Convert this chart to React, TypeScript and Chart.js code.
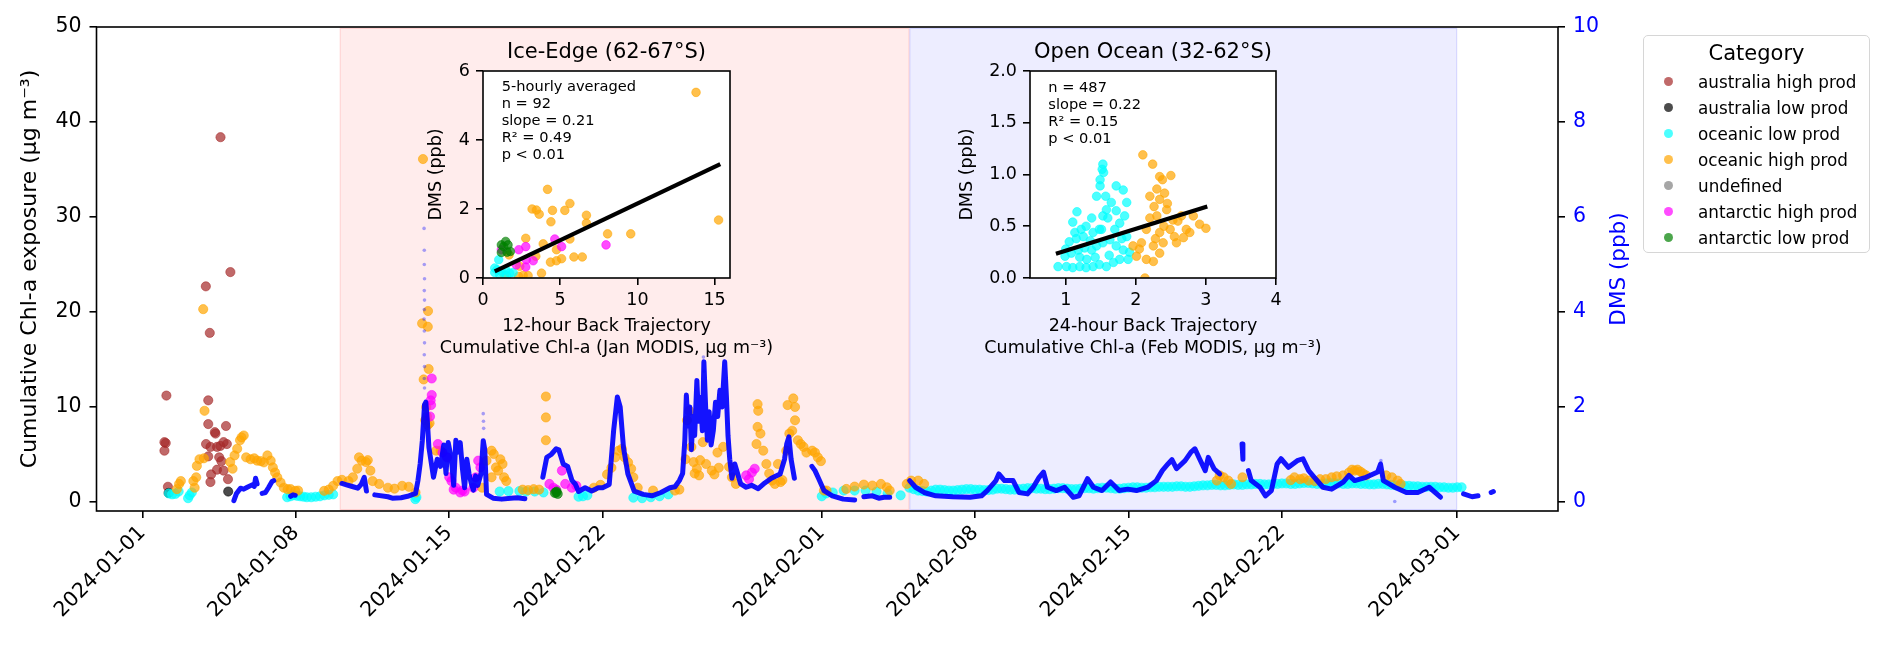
import { useEffect, useRef } from "react";
import { Chart, registerables } from "chart.js";

Chart.register(...registerables);

const FONT = '"DejaVu Sans", Verdana, sans-serif';

// ---- categories (legend order) ----
const categories = [
  "australia high prod",
  "australia low prod",
  "oceanic low prod",
  "oceanic high prod",
  "undefined",
  "antarctic high prod",
  "antarctic low prod",
];
const categoryColors = ["#a52a2a", "#000000", "#00ffff", "#ffa500", "#808080", "#ff00ff", "#008000"];

// ---- main panel axes (x = days since 2024-01-01) ----
const dateTickDays = [0, 7, 14, 21, 31, 38, 45, 52, 60];
const dateTickLabels = [
  "2024-01-01", "2024-01-08", "2024-01-15", "2024-01-22", "2024-02-01",
  "2024-02-08", "2024-02-15", "2024-02-22", "2024-03-01",
];
const chlTicks = [0, 10, 20, 30, 40, 50];
const dmsTicks = [0, 2, 4, 6, 8, 10];
const chlAxisTitle = "Cumulative Chl-a exposure (μg m⁻³)";
const dmsAxisTitle = "DMS (ppb)";

// shaded regimes (ice edge, open ocean)
const regimeStart = [9, 35];
const regimeEnd = [35, 60];

// ---- Chl-a exposure per category (day, μg m-3) ----
const ausHighDay = [
  1.09, 1.0, 1.06, 1.0, 1.16, 2.89, 3.07, 3.56, 4.01, 3.0,
  3.0, 3.81, 3.3, 3.33, 2.9, 3.1, 3.4, 3.55, 3.7, 3.85,
  3.0, 3.5, 3.6, 3.4, 3.7, 3.9, 3.13, 3.1,
];
const ausHighChl = [
  11.2, 6.3, 6.2, 5.4, 1.6, 22.7, 17.8, 38.4, 24.2, 10.7,
  8.2, 8.0, 7.35, 7.2, 6.1, 5.8, 5.8, 5.9, 6.3, 6.1,
  4.8, 4.7, 4.3, 3.4, 3.3, 2.4, 2.9, 2.1,
];
const ausLowDay = [1.19, 3.91];
const ausLowChl = [0.95, 1.1];

const oceanLowDay = [
  1.2, 1.35, 1.5, 1.65, 2.08, 2.15, 2.25, 6.6, 6.9, 7.2,
  7.5, 7.9, 8.3, 8.7, 12.45, 12.5, 16.3, 16.7, 17.2, 17.5,
  17.9, 18.3, 19.9, 20.1, 20.3, 22.4, 22.8, 23.2, 23.6, 24.0,
  31.0, 31.2, 31.5, 32.0, 32.5, 33.0, 33.5, 34.0, 34.6,
  6.75, 7.05, 7.35, 7.7, 8.1, 8.5,
  35.0, 35.4, 35.8, 36.2, 36.6, 37.0, 37.4, 37.8, 38.2, 38.6,
  39.0, 39.4, 39.8, 40.2, 40.6, 41.0, 41.4, 41.8, 42.2, 42.6,
  43.0, 43.4, 43.8, 44.2, 44.6, 45.0, 45.4, 45.8, 46.2, 46.6,
  47.0, 47.4, 47.8, 48.2, 48.6, 49.0, 49.4, 49.8, 50.2, 50.6,
  51.0, 51.4, 51.8, 52.2, 52.6, 53.0, 53.4, 53.8, 54.2, 54.6,
  55.0, 55.4, 55.8, 56.2, 56.6, 57.0, 57.4, 57.8, 58.2, 58.6,
  59.0, 59.4, 59.8, 60.2,
  35.2, 35.6, 36.0, 36.4, 36.8, 37.2, 37.6, 38.0, 38.4, 38.8,
  39.2, 39.6, 40.0, 40.4, 40.8, 41.2, 41.6, 42.0, 42.4, 42.8,
  43.2, 43.6, 44.0, 44.4, 44.8, 45.2, 45.6, 46.0, 46.4, 46.8,
  47.2, 47.6, 48.0, 48.4, 48.8, 49.2, 49.6, 50.0, 50.4, 50.8,
  51.2, 51.6, 52.0, 52.4, 52.8, 53.2, 53.6, 54.0, 54.4, 54.8,
  55.2, 55.6, 56.0, 56.4, 56.8, 57.2, 57.6, 58.0, 58.4, 58.8,
  59.2, 59.6, 60.0,
];
const oceanLowChl = [
  0.9, 0.8, 0.85, 1.1, 0.4, 0.7, 1.0, 0.5, 0.7, 0.6,
  0.5, 0.55, 0.7, 0.8, 0.3, 0.5, 1.1, 1.15, 1.15, 1.1,
  1.1, 1.0, 0.55, 0.6, 0.7, 0.45, 0.4, 0.5, 0.6, 0.8,
  0.6, 0.9, 1.0, 1.2, 1.2, 1.2, 1.1, 0.9, 0.7,
  0.6, 0.65, 0.55, 0.5, 0.6, 0.75,
  1.5, 1.2, 1.1, 1.3, 1.25, 1.2, 1.3, 1.35, 1.3, 1.25,
  1.4, 1.35, 1.3, 1.4, 1.45, 1.4, 1.35, 1.45, 1.4, 1.35,
  1.45, 1.4, 1.5, 1.45, 1.4, 1.5, 1.55, 1.5, 1.55, 1.6,
  1.6, 1.65, 1.6, 1.7, 1.75, 1.8, 1.75, 1.85, 1.8, 1.85,
  1.9, 1.85, 1.9, 1.95, 1.9, 2.0, 1.95, 1.9, 2.0, 1.95,
  1.9, 1.95, 1.9, 1.85, 1.9, 1.8, 1.75, 1.7, 1.65, 1.6,
  1.6, 1.55, 1.5, 1.55,
  1.35, 1.15, 1.2, 1.3, 1.2, 1.25, 1.35, 1.3, 1.25, 1.3,
  1.4, 1.3, 1.35, 1.45, 1.4, 1.35, 1.4, 1.45, 1.35, 1.4,
  1.45, 1.45, 1.5, 1.4, 1.45, 1.55, 1.5, 1.55, 1.6, 1.6,
  1.65, 1.6, 1.65, 1.75, 1.8, 1.75, 1.8, 1.8, 1.85, 1.9,
  1.85, 1.9, 1.95, 1.9, 1.95, 2.0, 1.9, 1.95, 2.0, 1.9,
  1.95, 1.9, 1.85, 1.9, 1.85, 1.75, 1.7, 1.65, 1.6, 1.6,
  1.55, 1.5, 1.55,
];

const oceanHighDay = [
  2.77, 2.83, 1.57, 1.67, 1.75, 2.32, 2.38, 2.45, 2.48, 2.6,
  2.8, 4.0, 4.11, 4.2, 4.32, 4.45, 4.52, 4.62, 4.73, 4.93,
  5.1, 5.23, 5.4, 5.54, 5.7, 5.85, 5.95, 6.05, 6.15, 6.3,
  6.45, 6.62, 6.76, 6.97, 7.1, 8.29, 8.5, 8.7, 8.9, 9.1,
  9.4, 9.6, 9.8, 9.88, 10.0, 10.2, 10.28, 10.4, 10.5, 10.8,
  11.2, 11.5, 11.85, 12.15, 12.46, 12.8, 13.03, 12.76, 13.02, 13.06,
  12.83, 12.9, 13.02, 13.1, 12.95, 12.98, 13.4, 13.6, 15.5, 15.7,
  15.93, 16.03, 16.33, 16.43, 16.13, 16.23, 16.5, 16.6, 15.93, 17.35,
  17.6, 17.85, 18.1, 18.41, 18.41, 18.41, 20.6, 20.9, 21.2, 21.4,
  21.58, 21.73, 21.88, 22.0, 22.16, 22.3, 22.4, 22.6, 23.3, 24.3,
  24.5, 24.78, 24.85, 24.95, 25.05, 25.15, 25.2, 25.3, 25.4, 25.45,
  25.57, 25.72, 25.98, 26.1, 26.24, 26.3, 26.5, 26.77, 26.9, 27.08,
  28.02, 28.07, 28.07, 28.1, 28.2, 28.33, 28.47, 28.6, 28.73, 28.86,
  29.0, 29.12, 29.2, 29.38, 29.44, 29.52, 29.65, 29.7, 29.78, 29.78,
  29.91, 30.04, 30.17, 30.3, 30.56, 30.69, 30.82, 30.96, 31.1, 31.22,
  32.12, 32.5, 32.92, 33.31, 33.7, 33.97, 34.1, 34.88, 35.08, 35.4,
  35.67, 49.03, 49.16, 49.34, 49.55, 49.68, 50.2, 52.4, 52.57, 52.83,
  53.0, 53.22, 53.5, 53.74, 54.0, 54.27, 54.5, 54.79, 55.06, 55.2,
  55.32, 55.45, 55.58, 55.7, 55.84, 56.76, 57.02, 57.28, 57.42,
];
const oceanHighChl = [
  20.3, 9.6, 1.35, 1.9, 2.2, 2.2, 1.5, 2.6, 3.8, 4.5,
  4.6, 4.2, 3.5, 4.9, 5.6, 6.5, 6.8, 7.0, 4.7, 4.5,
  4.6, 4.35, 4.3, 4.17, 4.9, 4.35, 3.64, 3.1, 2.6, 2.05,
  1.5, 1.35, 1.35, 1.17, 1.2, 1.17, 1.3, 1.7, 2.2, 2.33,
  2.2, 2.6, 3.5, 4.7, 4.35, 4.2, 4.4, 3.3, 2.2, 1.9,
  1.5, 1.4, 1.7, 1.6, 1.0, 36.1, 20.1, 18.8, 18.45, 14.0,
  12.9, 8.6, 8.1, 8.3, 10.0, 9.0, 5.4, 5.4, 1.5, 4.35,
  5.4, 5.05, 4.5, 4.0, 3.64, 3.3, 2.6, 2.2, 2.6, 1.3,
  1.25, 1.35, 1.3, 11.1, 8.9, 6.5, 1.5, 1.8, 2.9, 3.6,
  4.7, 5.4, 5.6, 4.7, 4.17, 3.5, 2.6, 1.5, 1.2, 1.2,
  1.3, 4.5, 8.6, 9.6, 5.8, 4.2, 3.0, 3.5, 2.8, 4.4,
  6.3, 4.0, 3.3, 2.9, 5.2, 3.6, 5.8, 3.7, 2.6, 1.9,
  6.1, 10.3, 7.9, 9.6, 7.2, 5.4, 4.0, 3.0, 2.25, 1.9,
  4.0, 2.1, 2.3, 5.4, 10.2, 7.2, 7.5, 10.9, 10.0, 8.6,
  6.5, 6.1, 5.8, 5.2, 5.4, 5.2, 4.7, 4.3, 1.2, 1.2,
  1.37, 1.62, 1.83, 1.73, 1.9, 1.55, 1.2, 1.9, 2.25, 2.25,
  1.9, 2.25, 2.8, 2.6, 2.25, 1.9, 2.6, 2.3, 2.6, 2.4,
  2.5, 2.25, 2.2, 2.4, 2.4, 2.6, 2.7, 2.8, 3.1, 3.4,
  3.3, 3.4, 3.2, 3.0, 2.8, 2.8, 2.6, 2.25, 1.9,
];
const undefinedDay: number[] = [];
const undefinedChl: number[] = [];
const antHighDay = [
  13.2, 13.2, 13.15, 13.17, 13.12, 13.48, 13.69, 13.9, 14.0, 14.1,
  14.2, 14.3, 14.5, 14.6, 14.7, 15.1, 15.21, 15.32, 15.42, 18.57,
  18.75, 18.88, 19.14, 19.29, 19.59, 19.8, 27.55, 27.68, 27.81, 27.94,
];
const antHighChl = [
  13.0, 11.26, 10.7, 10.2, 9.0, 6.1, 5.2, 4.7, 2.6, 2.2,
  1.3, 1.5, 1.0, 1.2, 1.1, 1.5, 2.6, 4.35, 3.64, 1.9,
  1.5, 1.3, 3.3, 1.9, 1.5, 1.7, 2.8, 2.4, 3.1, 3.5,
];
const antLowDay = [18.82, 18.88, 18.95, 18.9];
const antLowChl = [0.95, 1.0, 0.85, 1.1];

const catDay = [ausHighDay, ausLowDay, oceanLowDay, oceanHighDay, undefinedDay, antHighDay, antLowDay];
const catChl = [ausHighChl, ausLowChl, oceanLowChl, oceanHighChl, undefinedChl, antHighChl, antLowChl];

// ---- DMS trace (day, ppb); null = gap in record ----
const dmsDay = [
  4.17, 4.29, 4.47, 4.62, 4.78, 5.0, 5.1, 5.16, 5.23, 5.35,
  5.46, 5.61, 5.76, 5.91, 5.99, 6.3,
  6.76, 6.87, 6.97, 7.5,
  9.1, 9.31, 9.61, 9.82, 9.98, 10.12, 10.22, 10.4,
  10.6, 11.2, 11.4, 11.8, 12.1, 12.46, 12.57, 12.67, 12.77, 12.87,
  12.93, 13.0, 13.07, 13.28, 13.45, 13.6, 13.75, 13.85, 13.95, 14.1,
  14.2, 14.3, 14.4, 14.5, 14.6, 14.7, 14.8, 14.9, 15.0, 15.1,
  15.2, 15.3, 15.45, 15.55, 15.62, 15.7, 16.0, 16.4, 16.8, 17.1,
  17.45, 17.9,
  18.27, 18.45, 18.65, 18.88, 19.0, 19.2, 19.4, 19.6, 19.75, 19.9,
  20.2, 20.5, 20.8, 21.0, 21.3, 21.5, 21.67, 21.8, 21.95, 22.15,
  22.44, 22.85, 23.25, 23.66, 24.07, 24.3, 24.5, 24.65, 24.75, 24.82,
  24.9, 24.98, 25.05, 25.12, 25.2, 25.3, 25.38, 25.46, 25.55, 25.62,
  25.7, 25.78, 25.86, 25.95, 26.05, 26.15, 26.25, 26.35, 26.45, 26.57,
  26.65, 26.72, 26.8, 26.9, 27.03, 27.3, 27.55, 27.8, 28.1, 28.4,
  28.7, 29.1, 29.3, 29.4, 29.5, 29.6, 29.75, 30.1,
  30.55, 30.69, 30.85, 31.1, 31.48, 31.98, 32.5, 32.7,
  32.92, 33.31, 33.6, 33.84, 34.1, 34.5,
  35.01, 35.28, 35.67, 36.2, 36.98, 37.77, 38.29, 38.55, 38.95, 39.08,
  39.34, 39.73, 40.0, 40.39, 40.65, 40.92, 41.12, 41.3, 41.7, 42.08,
  42.48, 42.74, 43.13, 43.4, 43.79, 44.18, 44.57, 44.96, 45.36, 45.88,
  46.27, 46.54, 46.8, 46.98, 47.19, 47.58, 47.85, 48.03, 48.24, 48.5,
  48.64, 48.9, 49.16, 49.6, 50.18, 50.22, 50.35,
  50.47, 50.6, 51.0, 51.25, 51.52, 51.78, 51.96, 52.3, 52.7, 52.96,
  53.22, 53.48, 53.87, 54.27, 54.8, 55.06, 55.32, 55.84, 56.37, 56.5,
  56.63, 56.89, 57.15, 57.68, 58.2, 58.72, 59.24, 59.8,
  60.29, 60.68, 60.95, 61.3, 61.55, 61.65,
];
const dmsPpb = [
  0.03, 0.18, 0.29, 0.27, 0.31, 0.36, 0.33, 0.5, 0.38, null,
  0.18, 0.2, 0.31, 0.43, 0.45, null,
  0.12, 0.15, 0.14, null,
  0.39, 0.36, 0.32, 0.29, 0.37, 0.52, 0.23, null,
  0.15, 0.11, 0.08, 0.09, 0.12, 0.18, 0.45, 0.8, 1.29, 2.05,
  2.1, 1.7, 1.15, 0.52, 0.9, 0.75, 1.2, 0.6, 1.25, 0.9,
  0.35, 1.3, 1.05, 1.25, 0.7, 0.3, 0.9, 0.6, 0.4, 0.25,
  0.55, 0.35, 0.6, 1.29, 1.1, 0.16, 0.08, 0.06, 0.08, 0.09,
  0.07, null,
  0.52, 0.94, 1.0, 1.12, 1.1, 0.8, 0.75, 0.45, 0.38, 0.22,
  0.3, 0.23, 0.3, 0.3, 0.37, 1.5, 2.21, 2.0, 1.15, 0.59,
  0.23, 0.16, 0.13, 0.2, 0.3, 0.32, 0.45, 0.6, 1.3, 2.25,
  1.6, 2.0, 1.1, 1.8, 1.4, 2.56, 1.7, 2.2, 1.5, 2.95,
  2.0, 1.3, 1.9, 1.2, 1.5, 2.1, 1.8, 2.35, 2.0, 2.95,
  2.2, 1.4, 0.9, 0.5, 0.8, 0.38, 0.31, 0.35, 0.28, 0.4,
  0.5, 0.59, 0.9, 1.22, 1.37, 0.9, 0.5, null,
  0.75, 0.66, 0.5, 0.24, 0.13, 0.06, 0.04, null,
  0.11, 0.13, 0.08, 0.1, 0.1, null,
  0.45, 0.31, 0.2, 0.13, 0.11, 0.1, 0.13, 0.24, 0.45, 0.59,
  0.45, 0.45, 0.2, 0.17, 0.31, 0.52, 0.63, 0.31, 0.24, 0.31,
  0.1, 0.13, 0.49, 0.31, 0.24, 0.42, 0.24, 0.27, 0.24, 0.31,
  0.45, 0.66, 0.8, 0.89, 0.7, 0.87, 1.05, 1.12, 0.91, 0.66,
  0.94, 0.7, 0.59, null, 1.22, 0.9, null,
  0.66, 0.45, 0.31, 0.13, 0.24, 0.8, 0.91, 0.73, 0.87, 0.91,
  0.66, 0.52, 0.31, 0.27, 0.42, 0.56, 0.45, 0.52, 0.63, 0.8,
  0.45, 0.38, 0.31, 0.2, 0.2, 0.31, 0.1, null,
  0.17, 0.11, 0.13, null, 0.2, 0.22,
];
// sparse, faint DMS samples
const faintDay = [
  12.85, 12.86, 12.86, 12.87, 12.86, 12.87, 12.86, 12.85, 12.86, 12.87,
  12.86, 12.87, 12.86, 12.87, 15.55, 15.56, 15.57, 25.6, 25.62, 57.15, 56.52,
];
const faintPpb = [
  5.76, 5.3, 5.0, 4.7, 4.45, 4.25, 4.05, 3.85, 3.6, 3.35,
  3.1, 2.85, 2.6, 2.4, 1.86, 1.7, 1.55, 3.05, 2.75, 0.01, 0.87,
];

// ---- inset 1: Ice-Edge (x = Chl-a, y = DMS) ----
const ice = {
  title: "Ice-Edge (62-67°S)",
  xTitle: ["12-hour Back Trajectory", "Cumulative Chl-a (Jan MODIS, μg m⁻³)"],
  notes: ["5-hourly averaged", "n = 92", "slope = 0.21", "R² = 0.49", "p < 0.01"],
};
const iceXTicks = [0, 5, 10, 15];
const iceYTicks = [0, 2, 4, 6];
const iceOrangeX = [
  13.8, 15.26, 4.18, 3.18, 3.46, 3.64, 4.5, 5.3, 5.63, 4.4,
  6.7, 6.7, 8.07, 9.57, 5.63, 3.9, 2.77, 1.69, 4.76, 4.37,
  4.76, 5.09, 5.89, 6.43, 3.42, 3.79, 2.92, 2.6, 2.3, 1.4, 2.38,
];
const iceOrangeY = [
  5.38, 1.68, 2.57, 2.0, 1.97, 1.85, 1.96, 1.96, 2.16, 1.63,
  1.82, 1.59, 1.28, 1.28, 1.13, 0.99, 1.15, 0.67, 0.82, 0.46,
  0.5, 0.56, 0.61, 0.61, 0.63, 0.14, 0.07, 0.08, 0.05, 0.08, 0.34,
];
const iceMagentaX = [4.65, 5.09, 7.97, 2.32, 2.77, 2.81, 3.25, 2.16, 2.77, 1.19];
const iceMagentaY = [1.13, 0.91, 0.96, 0.82, 0.91, 0.53, 0.5, 0.38, 0.32, 0.82];
const iceGreenX = [1.19, 1.47, 1.34, 1.19, 1.56, 1.77, 1.62];
const iceGreenY = [0.96, 1.06, 0.91, 0.74, 0.75, 0.77, 0.96];
const iceCyanX = [1.02, 0.76, 0.91, 1.19, 1.47, 1.73, 1.95, 0.76, 1.08, 1.52];
const iceCyanY = [0.53, 0.29, 0.24, 0.19, 0.24, 0.14, 0.16, 0.16, 0.1, 0.07];
const iceFitX = [0.76, 15.37];
const iceFitY = [0.19, 3.3];

// ---- inset 2: Open Ocean ----
const ocean = {
  title: "Open Ocean (32-62°S)",
  xTitle: ["24-hour Back Trajectory", "Cumulative Chl-a (Feb MODIS, μg m⁻³)"],
  notes: ["n = 487", "slope = 0.22", "R² = 0.15", "p < 0.01"],
};
const oceanXTicks = [1, 2, 3, 4];
const oceanYTicks = [0, 0.5, 1, 1.5, 2];
const oceanCyanX = [
  0.89, 1.01, 1.1, 1.2, 1.29, 1.39, 1.48, 1.58, 1.68, 1.77,
  1.89, 0.99, 1.08, 1.18, 1.27, 1.37, 1.44, 1.53, 1.63, 1.72,
  1.82, 1.13, 1.1, 1.16, 1.22, 1.29, 1.37, 1.39, 1.48, 1.44,
  1.49, 1.52, 1.53, 1.54, 1.49, 1.57, 1.58, 1.53, 1.51, 1.72,
  1.82, 1.87, 1.84, 1.77, 1.72, 1.65, 1.7, 1.87, 1.91, 1.6,
  1.05, 1.15, 1.25, 1.35, 1.0, 1.2, 1.3, 1.42, 1.62, 1.8,
];
const oceanCyanY = [
  0.11, 0.11, 0.1, 0.11, 0.1, 0.11, 0.13, 0.11, 0.15, 0.18,
  0.18, 0.21, 0.24, 0.27, 0.29, 0.27, 0.31, 0.34, 0.37, 0.31,
  0.27, 0.44, 0.54, 0.64, 0.47, 0.5, 0.58, 0.44, 0.47, 0.79,
  0.89, 1.05, 1.1, 1.02, 0.95, 0.79, 0.66, 0.6, 0.47, 0.89,
  0.85, 0.73, 0.6, 0.53, 0.65, 0.73, 0.47, 0.4, 0.25, 0.58,
  0.35, 0.38, 0.4, 0.36, 0.28, 0.2, 0.18, 0.2, 0.22, 0.38,
];
const oceanOrangeX = [
  2.1, 2.24, 2.5, 2.34, 2.38, 2.2, 2.34, 2.26, 2.41, 2.44,
  2.3, 2.53, 2.65, 2.82, 2.91, 3.0, 2.15, 2.34, 2.49, 2.72,
  2.77, 1.96, 2.08, 2.25, 2.39, 2.58, 2.68, 2.01, 2.15, 2.25,
  2.34, 2.13, 2.2, 2.45, 2.6, 2.05, 2.3, 2.55, 2.4, 2.28,
];
const oceanOrangeY = [
  1.19, 1.1, 0.99, 0.98, 0.95, 0.79, 0.76, 0.69, 0.82, 0.66,
  0.6, 0.56, 0.6, 0.6, 0.52, 0.48, 0.47, 0.44, 0.47, 0.47,
  0.44, 0.31, 0.34, 0.31, 0.34, 0.34, 0.39, 0.21, 0.18, 0.16,
  0.24, 0.0, 0.58, 0.72, 0.55, 0.28, 0.86, 0.4, 0.5, 0.38,
];
const oceanFitX = [0.86, 3.02];
const oceanFitY = [0.235, 0.69];

// ---------------------------------------------------------------

const toPoints = (xs: number[], ys: (number | null)[]) => xs.map((x, i) => ({ x, y: ys[i] }));

const withAlpha = (hex: string, a: number) => {
  const n = parseInt(hex.slice(1), 16);
  return `rgba(${(n >> 16) & 255},${(n >> 8) & 255},${n & 255},${a})`;
};

const fixedTicks = (values: number[]) => (scale: any) => {
  scale.ticks = values.map((value) => ({ value }));
};

const axisGrid = { display: true, drawOnChartArea: false, drawTicks: true, tickLength: 7, color: "#000", lineWidth: 1.6 };

const framePlugin = {
  id: "frame",
  afterDatasetsDraw(chart: any) {
    const { ctx, chartArea: a } = chart;
    ctx.save();
    ctx.strokeStyle = "#000";
    ctx.lineWidth = 1.6;
    ctx.strokeRect(a.left, a.top, a.right - a.left, a.bottom - a.top);
    ctx.restore();
  },
};

const regimePlugin = {
  id: "regimes",
  beforeDatasetsDraw(chart: any) {
    const { ctx, chartArea: a, scales } = chart;
    const fills = ["rgba(255,0,0,0.075)", "rgba(0,0,255,0.07)"];
    const edges = ["rgba(255,0,0,0.12)", "rgba(0,0,255,0.12)"];
    ctx.save();
    regimeStart.forEach((s, i) => {
      const x0 = scales.x.getPixelForValue(s);
      const x1 = scales.x.getPixelForValue(regimeEnd[i]);
      ctx.fillStyle = fills[i];
      ctx.fillRect(x0, a.top, x1 - x0, a.bottom - a.top);
      ctx.strokeStyle = edges[i];
      ctx.lineWidth = 1;
      ctx.strokeRect(x0 + 0.5, a.top + 1.5, x1 - x0 - 1, a.bottom - a.top - 3);
    });
    ctx.restore();
  },
};

const rightTitlePlugin = {
  id: "rightTitle",
  afterDraw(chart: any) {
    const { ctx, chartArea: a } = chart;
    ctx.save();
    ctx.translate(a.right + 61, (a.top + a.bottom) / 2);
    ctx.rotate(-Math.PI / 2);
    ctx.font = `21.5px ${FONT}`;
    ctx.fillStyle = "#0000ff";
    ctx.textAlign = "center";
    ctx.textBaseline = "middle";
    ctx.fillText(dmsAxisTitle, 0, 0);
    ctx.restore();
  },
};

function MainPanel() {
  const canvasRef = useRef<HTMLCanvasElement>(null);

  useEffect(() => {
    const canvas = canvasRef.current;
    if (!canvas) return;

    const scatterSets: any[] = categories.map((name, i) => ({
      type: "scatter",
      label: name,
      data: toPoints(catDay[i], catChl[i]),
      yAxisID: "y",
      backgroundColor: withAlpha(categoryColors[i], 0.7),
      borderColor: withAlpha(categoryColors[i], 0.55),
      borderWidth: 1,
      pointRadius: 4.6,
      order: 10 - i,
    }));

    const chart = new Chart(canvas, {
      type: "scatter",
      data: {
        datasets: [
          {
            type: "line",
            label: "DMS",
            data: toPoints(dmsDay, dmsPpb),
            yAxisID: "y2",
            borderColor: "rgba(0,0,255,0.92)",
            borderWidth: 5,
            borderJoinStyle: "round",
            borderCapStyle: "round",
            pointRadius: 0,
            spanGaps: false,
            tension: 0,
            order: 0,
          } as any,
          {
            type: "scatter",
            label: "DMS sparse",
            data: toPoints(faintDay, faintPpb),
            yAxisID: "y2",
            backgroundColor: "rgba(0,0,255,0.35)",
            borderWidth: 0,
            pointRadius: 1.8,
            order: 1,
          } as any,
          ...scatterSets,
        ],
      },
      options: {
        animation: false,
        responsive: false,
        events: [],
        layout: { padding: { left: 0, right: 250, top: 27, bottom: 0 } },
        plugins: { legend: { display: false }, tooltip: { enabled: false } },
        scales: {
          x: {
            type: "linear",
            min: -2.1,
            max: 64.6,
            afterBuildTicks: fixedTicks(dateTickDays),
            afterFit: (s: any) => {
              s.height = 136;
            },
            ticks: {
              autoSkip: false,
              minRotation: 45,
              maxRotation: 45,
              padding: 3,
              color: "#000",
              font: { family: FONT, size: 20.5 },
              callback: (v: any) => dateTickLabels[dateTickDays.indexOf(Number(v))] ?? "",
            },
            grid: axisGrid,
            border: { display: false },
          },
          y: {
            position: "left",
            min: -0.95,
            max: 50,
            afterBuildTicks: fixedTicks(chlTicks),
            afterFit: (s: any) => {
              s.width = 96.5;
            },
            ticks: { padding: 8, color: "#000", font: { family: FONT, size: 20.5 } },
            grid: axisGrid,
            border: { display: false },
            title: {
              display: true,
              text: chlAxisTitle,
              color: "#000",
              font: { family: FONT, size: 22 },
              padding: { top: 17, bottom: 0 },
            },
          },
          y2: {
            position: "right",
            min: -0.19,
            max: 10,
            afterBuildTicks: fixedTicks(dmsTicks),
            afterFit: (s: any) => {
              s.width = 84;
            },
            ticks: { padding: 8, color: "#0000ff", font: { family: FONT, size: 20.5 } },
            grid: axisGrid,
            border: { display: false },
          },
        },
      } as any,
      plugins: [regimePlugin, framePlugin, rightTitlePlugin],
    });

    return () => chart.destroy();
  }, []);

  return (
    <canvas ref={canvasRef} width={1892} height={647} style={{ position: "absolute", left: 0, top: 0 }} />
  );
}

type InsetSeries = { color: string; x: number[]; y: number[] };

function InsetPanel(props: {
  left: number;
  width: number;
  yAxisWidth: number;
  padRight: number;
  yTitlePad: number;
  xMin: number;
  xMax: number;
  yMax: number;
  xTicks: number[];
  yTicks: number[];
  yDecimals: number;
  series: InsetSeries[];
  fitX: number[];
  fitY: number[];
  info: { title: string; xTitle: string[]; notes: string[] };
  noteDx: number;
  noteDy: number;
}) {
  const canvasRef = useRef<HTMLCanvasElement>(null);

  useEffect(() => {
    const canvas = canvasRef.current;
    if (!canvas) return;
    const p = props;

    const decor = {
      id: "insetDecor",
      beforeDraw(chart: any) {
        const { ctx, chartArea: a } = chart;
        ctx.save();
        ctx.fillStyle = "#fff";
        ctx.fillRect(a.left, a.top, a.right - a.left, a.bottom - a.top);
        ctx.restore();
      },
      afterDraw(chart: any) {
        const { ctx, chartArea: a } = chart;
        const cx = (a.left + a.right) / 2;
        ctx.save();
        ctx.fillStyle = "#000";
        ctx.textAlign = "center";
        ctx.textBaseline = "alphabetic";
        ctx.font = `21px ${FONT}`;
        ctx.fillText(p.info.title, cx, a.top - 13);
        ctx.textBaseline = "middle";
        ctx.font = `17.5px ${FONT}`;
        p.info.xTitle.forEach((line, i) => ctx.fillText(line, cx, a.bottom + 48.7 + i * 21.6));
        ctx.textAlign = "left";
        ctx.textBaseline = "top";
        ctx.font = `14.6px ${FONT}`;
        p.info.notes.forEach((line, i) => ctx.fillText(line, a.left + p.noteDx, a.top + p.noteDy + i * 17.1));
        ctx.restore();
      },
    };

    const tickFont = { family: FONT, size: 17.5 };

    const chart = new Chart(canvas, {
      type: "scatter",
      data: {
        datasets: [
          {
            type: "line",
            label: "fit",
            data: toPoints(p.fitX, p.fitY),
            borderColor: "#000",
            borderWidth: 4.2,
            pointRadius: 0,
            order: 0,
          } as any,
          ...p.series.map((s, i) => ({
            type: "scatter",
            label: s.color,
            data: toPoints(s.x, s.y),
            backgroundColor: withAlpha(s.color, 0.7),
            borderColor: withAlpha(s.color, 0.55),
            borderWidth: 1,
            pointRadius: 4.3,
            clip: 0,
            order: 10 - i,
          })),
        ],
      },
      options: {
        animation: false,
        responsive: false,
        events: [],
        layout: { padding: { left: 0, right: p.padRight, top: 46, bottom: 0 } },
        plugins: { legend: { display: false }, tooltip: { enabled: false } },
        scales: {
          x: {
            type: "linear",
            min: p.xMin,
            max: p.xMax,
            afterBuildTicks: fixedTicks(p.xTicks),
            afterFit: (s: any) => {
              s.height = 82;
            },
            ticks: { padding: 5, color: "#000", font: tickFont, maxRotation: 0 },
            grid: axisGrid,
            border: { display: false },
          },
          y: {
            min: 0,
            max: p.yMax,
            afterBuildTicks: fixedTicks(p.yTicks),
            afterFit: (s: any) => {
              s.width = p.yAxisWidth;
            },
            ticks: {
              padding: 6,
              color: "#000",
              font: tickFont,
              callback: (v: any) => Number(v).toFixed(p.yDecimals),
            },
            grid: axisGrid,
            border: { display: false },
            title: {
              display: true,
              text: dmsAxisTitle,
              color: "#000",
              font: { family: FONT, size: 17.5 },
              padding: { top: p.yTitlePad, bottom: 0 },
            },
          },
        },
      } as any,
      plugins: [decor, framePlugin],
    });

    return () => chart.destroy();
  }, []);

  return (
    <canvas
      ref={canvasRef}
      width={props.width}
      height={335}
      style={{ position: "absolute", left: props.left, top: 25 }}
    />
  );
}

function Legend() {
  return (
    <div
      style={{
        position: "absolute",
        left: 1643,
        top: 35,
        width: 227,
        height: 218,
        boxSizing: "border-box",
        border: "1.5px solid #d6d6d6",
        borderRadius: 5,
        background: "#fff",
        fontFamily: FONT,
        color: "#000",
      }}
    >
      <div style={{ position: "absolute", left: 0, right: 0, top: 4, textAlign: "center", fontSize: 21, lineHeight: "26px" }}>
        Category
      </div>
      {categories.map((name, i) => (
        <div key={name} style={{ position: "absolute", left: 0, top: 35.6 + i * 26.03, height: 20, width: "100%" }}>
          <span
            style={{
              position: "absolute",
              left: 19.5,
              top: 5.5,
              width: 9,
              height: 9,
              borderRadius: "50%",
              background: withAlpha(categoryColors[i], 0.7),
            }}
          />
          <span style={{ position: "absolute", left: 54, top: 0, fontSize: 16.8, lineHeight: "20px", whiteSpace: "nowrap" }}>
            {name}
          </span>
        </div>
      ))}
    </div>
  );
}

export default function App() {
  return (
    <div style={{ position: "absolute", left: 0, top: 0, width: 1892, height: 647, background: "#fff", overflow: "hidden" }}>
      <MainPanel />
      <InsetPanel
        left={410}
        width={380}
        yAxisWidth={73}
        padRight={60}
        yTitlePad={16}
        xMin={0}
        xMax={16}
        yMax={6}
        xTicks={iceXTicks}
        yTicks={iceYTicks}
        yDecimals={0}
        series={[
          { color: categoryColors[3], x: iceOrangeX, y: iceOrangeY },
          { color: categoryColors[2], x: iceCyanX, y: iceCyanY },
          { color: categoryColors[5], x: iceMagentaX, y: iceMagentaY },
          { color: categoryColors[6], x: iceGreenX, y: iceGreenY },
        ]}
        fitX={iceFitX}
        fitY={iceFitY}
        info={ice}
        noteDx={18.7}
        noteDy={8.5}
      />
      <InsetPanel
        left={940}
        width={400}
        yAxisWidth={90}
        padRight={64}
        yTitlePad={17}
        xMin={0.49}
        xMax={4}
        yMax={2}
        xTicks={oceanXTicks}
        yTicks={oceanYTicks}
        yDecimals={1}
        series={[
          { color: categoryColors[2], x: oceanCyanX, y: oceanCyanY },
          { color: categoryColors[3], x: oceanOrangeX, y: oceanOrangeY },
        ]}
        fitX={oceanFitX}
        fitY={oceanFitY}
        info={ocean}
        noteDx={18.3}
        noteDy={9.5}
      />
      <Legend />
    </div>
  );
}
